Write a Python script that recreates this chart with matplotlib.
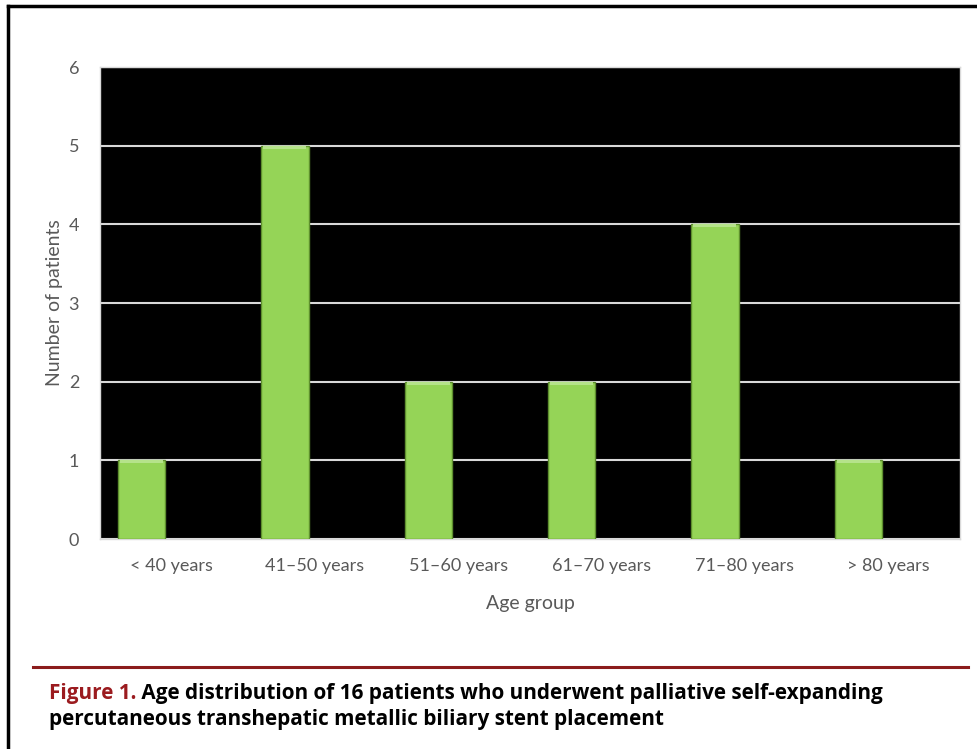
import numpy as np
import matplotlib
matplotlib.use('Agg')
import matplotlib.pyplot as plt
from matplotlib import font_manager
from matplotlib.lines import Line2D

# Data
age_groups = ['< 40 years', '41\u201350 years', '51\u201360 years',
              '61\u201370 years', '71\u201380 years', '> 80 years']
patients = [1, 5, 2, 2, 4, 1]
y_ticks = [0, 1, 2, 3, 4, 5, 6]

caption_head = 'Figure 1.'
caption_line1 = ' Age distribution of 16 patients who underwent palliative self-expanding'
caption_line2 = 'percutaneous transhepatic metallic biliary stent placement'

# Fonts
installed = {f.name for f in font_manager.fontManager.ttflist}
body_font = 'Lato' if 'Lato' in installed else 'DejaVu Sans'
cap_font = 'Liberation Sans Narrow' if 'Liberation Sans Narrow' in installed else 'Open Sans'

W, H = 978, 749
fig = plt.figure(figsize=(W / 100, H / 100), dpi=100)
fig.patch.set_facecolor('white')

# Plot area in pixel coordinates
left, right, top, bottom = 100, 960, 67, 539
ax = fig.add_axes([left / W, 1 - bottom / H, (right - left) / W, (bottom - top) / H])
ax.set_facecolor('black')

x = np.arange(len(age_groups))
offset = -0.21
ax.bar(x + offset, patients, width=0.33, color='#95D457',
       edgecolor='#5E8F2E', linewidth=1.0, zorder=3)
# light bevel along the top of each bar
ax.bar(x + offset, [0.04] * len(patients), bottom=np.array(patients) - 0.04,
       width=0.30, color='#B5E38A', linewidth=0, zorder=4)

ax.set_xlim(-0.5, 5.5)
ax.set_ylim(0, 6)
ax.set_yticks(y_ticks)
ax.set_xticks(x)
ax.set_xticklabels(age_groups)
ax.yaxis.grid(True, color='#D9D9D9', linewidth=1.5, zorder=1)
ax.set_axisbelow(True)
ax.tick_params(length=0, colors='#595959', labelsize=13)
ax.tick_params(axis='x', pad=14)
ax.tick_params(axis='y', pad=15)
for lab in ax.get_xticklabels() + ax.get_yticklabels():
    lab.set_fontfamily(body_font)
for s in ax.spines.values():
    s.set_color('#D9D9D9')
    s.set_linewidth(1.0)

ax.set_xlabel('Age group', fontsize=14, color='#595959', family=body_font, labelpad=15)
ax.set_ylabel('Number of patients', fontsize=14, color='#595959', family=body_font, labelpad=4)

# Outer frame (top and left edges)
fig.add_artist(Line2D([8 / W, 1.0], [1 - 6 / H, 1 - 6 / H], color='black',
                      linewidth=2.5, transform=fig.transFigure))
fig.add_artist(Line2D([8 / W, 8 / W], [1 - 6 / H, 0], color='black',
                      linewidth=2.5, transform=fig.transFigure))

# Caption rule
fig.add_artist(Line2D([33 / W, 968 / W], [1 - 667 / H, 1 - 667 / H],
                      color='#8B1C1C', linewidth=2.2, transform=fig.transFigure))

# Caption text, sized so the first line spans the caption width
renderer = fig.canvas.get_renderer()
fs = 14
head = fig.text(49 / W, 1 - 699 / H, caption_head, color='#9B1B1F',
                fontweight='bold', family=cap_font, fontsize=fs, va='baseline')
rest = fig.text(0, 1 - 699 / H, caption_line1, color='black',
                fontweight='bold', family=cap_font, fontsize=fs, va='baseline')
line2 = fig.text(49 / W, 1 - 725 / H, caption_line2, color='black',
                 fontweight='bold', family=cap_font, fontsize=fs, va='baseline')
w_total = head.get_window_extent(renderer).width + rest.get_window_extent(renderer).width
fs = fs * 841 / w_total
for t in (head, rest, line2):
    t.set_fontsize(fs)
hx = head.get_window_extent(renderer).x1
rest.set_x(hx / W)

fig.savefig('out.png', dpi=100, facecolor='white')
